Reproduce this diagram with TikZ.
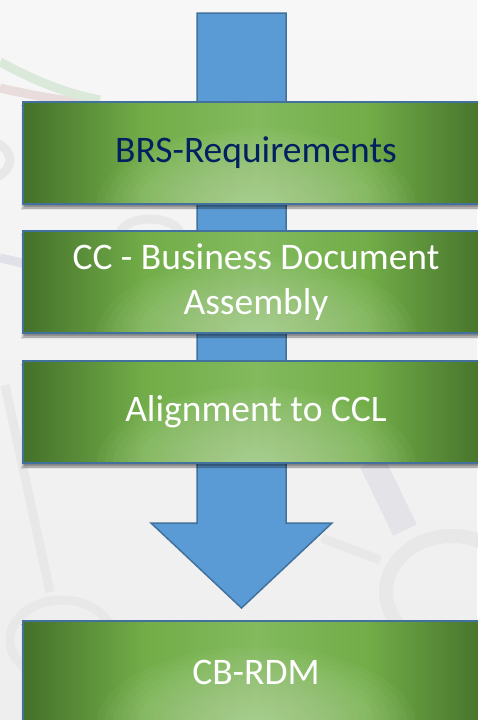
\documentclass[tikz,border=0pt]{standalone}
\usepackage{fontspec}
\setmainfont{Carlito}
\usepackage{tikz}
\usetikzlibrary{positioning, backgrounds, shadows.blur}

\definecolor{gdark}{HTML}{44702A}
\definecolor{gmid}{HTML}{72AD48}
\definecolor{gcentre}{HTML}{82BA5D}
\definecolor{glight}{HTML}{C4E0B2}
\definecolor{stageline}{HTML}{41719C}
\definecolor{flowfill}{HTML}{5B9BD5}
\definecolor{navytext}{HTML}{002060}
\definecolor{slidetop}{HTML}{F7F7F7}
\definecolor{slidebottom}{HTML}{EEEEEE}
\definecolor{decogray}{HTML}{E8E8E8}

\pgfdeclarehorizontalshading{stageh}{100bp}{color(0bp)=(gdark); color(25bp)=(gdark);
  color(38bp)=(gmid); color(50bp)=(gcentre); color(62bp)=(gmid);
  color(75bp)=(gdark); color(100bp)=(gdark)}

\begin{document}
\begin{tikzpicture}[
  x=1pt, y=1pt,
  node distance=27pt,
  stage/.style={draw=stageline, line width=1.5pt, shading=stageh,
                minimum width=466pt, minimum height=102pt, inner sep=0pt,
                outer sep=0pt, align=center, text=white,
                font=\fontsize{37.5}{45}\selectfont,
                blur shadow={shadow xshift=0pt, shadow yshift=-4pt,
                             shadow blur steps=6, shadow opacity=45},
                path picture={\foreach \r in {1,...,20}
                  \fill[glight, opacity=0.05]
                  ([yshift=-4pt]path picture bounding box.south)
                  ellipse [x radius=\r*8pt, y radius=\r*4pt];}},
  flow/.style={draw=stageline, line width=1.5pt, fill=flowfill, line join=miter},
  deco/.style={draw=decogray, line width=9pt},
]
\useasboundingbox (0,0) rectangle (477,-720);

% stages
\node[stage, text=navytext] (brs) at (256,-153) {BRS-Requirements};
\node[stage, below=of brs]           (cc)  {CC - Business Document\\Assembly};
\node[stage, below=28pt of cc]       (ccl) {Alignment to CCL};
\node[stage, below=158pt of ccl]     (rdm) {CB-RDM};

\coordinate (tail) at (241.5,-13);
\coordinate (tip)  at ([xshift=-14.5pt,yshift=13pt]rdm.north);

\begin{scope}[on background layer]
  % slide background
  \shade[top color=slidetop, bottom color=slidebottom] (0,0) rectangle (477,-720);
  \draw[deco, draw=red!5!decogray] (0,-88) .. controls (30,-95) and (60,-100) .. (95,-105);
  \draw[deco, draw=green!6!decogray] (0,-62) .. controls (30,-78) and (60,-92) .. (100,-100);
  \draw[deco] (-25,-160) ellipse [x radius=35pt, y radius=22pt];
  \draw[deco] (150,-235) ellipse [x radius=30pt, y radius=16pt];
  \draw[deco, draw=blue!3!decogray] (0,-258) .. controls (20,-262) and (40,-268) .. (60,-275);
  \draw[deco] (5,-385) -- (50,-592);
  \draw[deco] (62,-640) ellipse [x radius=52pt, y radius=40pt];
  \draw[deco, line width=26pt, draw=blue!2!decogray] (372,-462) -- (405,-530);
  \draw[deco] (322,-538) -- (380,-560);
  \draw[deco, line width=14pt] (452,-592) ellipse [x radius=66pt, y radius=56pt];
  % flow arrow
  \draw[flow] ([xshift=-44.5pt]tail) -- ([xshift=44.5pt]tail)
    -- ([xshift=44.5pt,yshift=85pt]tip) -- ([xshift=90.5pt,yshift=85pt]tip)
    -- (tip) -- ([xshift=-90.5pt,yshift=85pt]tip)
    -- ([xshift=-44.5pt,yshift=85pt]tip) -- cycle;
\end{scope}
\end{tikzpicture}
\end{document}
